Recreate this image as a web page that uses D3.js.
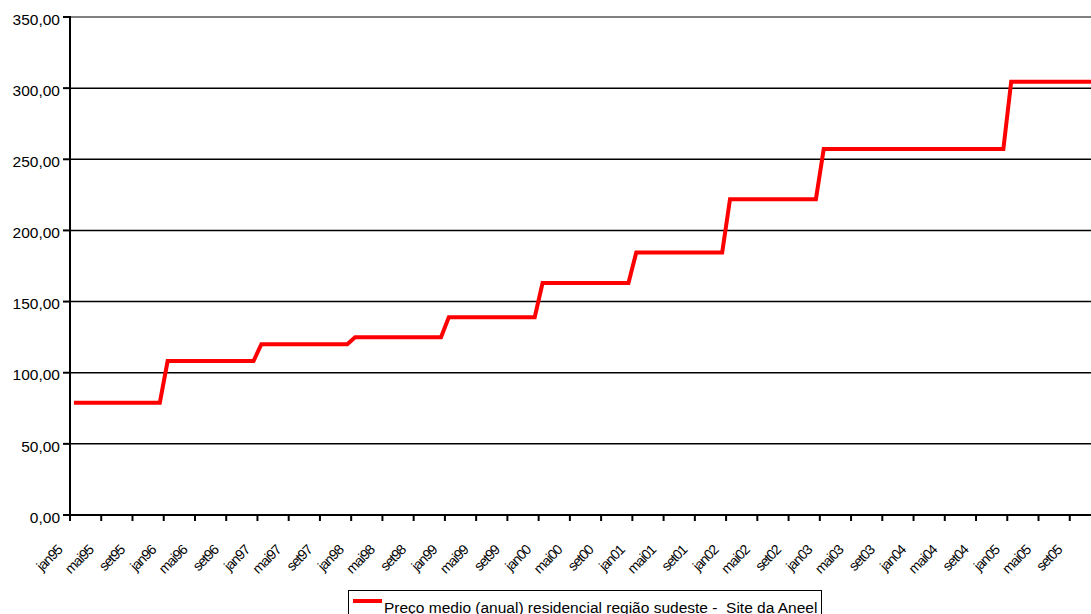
<!DOCTYPE html>
<html lang="pt">
<head>
<meta charset="UTF-8">
<title>Preço medio residencial</title>
<script src="https://d3js.org/d3.v7.min.js"></script>
<style>
  body { margin: 0; background: #fff; }
  text { font-family: "Liberation Sans", Arial, sans-serif; fill: #000; }
</style>
</head>
<body>
<script>
    // meses (abreviação) e anos da série
    var meses = ["jan", "fev", "mar", "abr", "mai", "jun", "jul", "ago", "set", "out", "nov", "dez"];
    var anos = ["95", "96", "97", "98", "99", "00", "01", "02", "03", "04", "05"];

    // preço médio mensal (valor anual repetido em cada mês), jan95 .. dez05
    var precoMensal = [
        78.9, 78.9, 78.9, 78.9, 78.9, 78.9, 78.9, 78.9, 78.9, 78.9, 78.9, 78.9,
        108.2, 108.2, 108.2, 108.2, 108.2, 108.2, 108.2, 108.2, 108.2, 108.2, 108.2, 108.2,
        120.0, 120.0, 120.0, 120.0, 120.0, 120.0, 120.0, 120.0, 120.0, 120.0, 120.0, 120.0,
        124.9, 124.9, 124.9, 124.9, 124.9, 124.9, 124.9, 124.9, 124.9, 124.9, 124.9, 124.9,
        139.0, 139.0, 139.0, 139.0, 139.0, 139.0, 139.0, 139.0, 139.0, 139.0, 139.0, 139.0,
        163.0, 163.0, 163.0, 163.0, 163.0, 163.0, 163.0, 163.0, 163.0, 163.0, 163.0, 163.0,
        184.5, 184.5, 184.5, 184.5, 184.5, 184.5, 184.5, 184.5, 184.5, 184.5, 184.5, 184.5,
        222.0, 222.0, 222.0, 222.0, 222.0, 222.0, 222.0, 222.0, 222.0, 222.0, 222.0, 222.0,
        257.3, 257.3, 257.3, 257.3, 257.3, 257.3, 257.3, 257.3, 257.3, 257.3, 257.3, 257.3,
        257.3, 257.3, 257.3, 257.3, 257.3, 257.3, 257.3, 257.3, 257.3, 257.3, 257.3, 257.3,
        304.5, 304.5, 304.5, 304.5, 304.5, 304.5, 304.5, 304.5, 304.5, 304.5, 304.5, 304.5
    ];

    var yTicks = [0, 50, 100, 150, 200, 250, 300, 350];
    var legenda = "Preço medio (anual) residencial região sudeste -  Site da Aneel";

    var categorias = [];
    anos.forEach(function(a) {
        meses.forEach(function(m) { categorias.push(m + a); });
    });

    var dataset = categorias.map(function(c, i) {
        return { cat: c, valor: precoMensal[i] };
    });

    var w = 1091;
    var h = 614;

    var svg = d3.select("body")
                .append("svg")
                .attr("width", w)
                .attr("height", h);

    var xScale = d3.scaleBand()
                   .domain(categorias)
                   .range([70, 1101]);

    var yScale = d3.scaleLinear()
                   .domain([0, 350])
                   .range([515, 17]);

    var fmt = function(v) { return d3.format(".2f")(v).replace(".", ","); };

    // linhas de grade
    svg.selectAll("line.grid")
       .data(yTicks.filter(function(d) { return d > 0; }))
       .enter()
       .append("line")
       .attr("class", "grid")
       .attr("x1", 70)
       .attr("x2", w)
       .attr("y1", function(d) { return yScale(d); })
       .attr("y2", function(d) { return yScale(d); })
       .attr("stroke", function(d) { return d === 350 ? "#808080" : "#000"; })
       .attr("stroke-width", function(d) { return d === 350 ? 2 : 1.5; });

    // eixo y
    svg.append("line")
       .attr("x1", 70).attr("x2", 70)
       .attr("y1", yScale(350) - 1).attr("y2", 521)
       .attr("stroke", "#000").attr("stroke-width", 2);

    svg.selectAll("line.ytick")
       .data(yTicks)
       .enter()
       .append("line")
       .attr("class", "ytick")
       .attr("x1", 63).attr("x2", 70)
       .attr("y1", function(d) { return yScale(d); })
       .attr("y2", function(d) { return yScale(d); })
       .attr("stroke", "#000").attr("stroke-width", 2);

    svg.selectAll("text.ylab")
       .data(yTicks)
       .enter()
       .append("text")
       .attr("class", "ylab")
       .attr("x", 60)
       .attr("y", function(d) { return yScale(d) + 7.7; })
       .attr("text-anchor", "end")
       .style("font-size", "15.5px")
       .text(fmt);

    // eixo x
    svg.append("line")
       .attr("x1", 63).attr("x2", w)
       .attr("y1", 515).attr("y2", 515)
       .attr("stroke", "#000").attr("stroke-width", 2);

    var xTicks = categorias.filter(function(c, i) { return i % 4 === 0; });

    svg.selectAll("line.xtick")
       .data(xTicks)
       .enter()
       .append("line")
       .attr("class", "xtick")
       .attr("x1", function(d) { return xScale(d); })
       .attr("x2", function(d) { return xScale(d); })
       .attr("y1", 515).attr("y2", 521)
       .attr("stroke", "#000").attr("stroke-width", 2);

    svg.selectAll("text.xlab")
       .data(xTicks)
       .enter()
       .append("text")
       .attr("class", "xlab")
       .attr("text-anchor", "end")
       .attr("transform", function(d) {
           return "translate(" + (xScale(d) - 7) + ",551) rotate(-45)";
       })
       .style("font-size", "14px")
       .style("letter-spacing", "-1px")
       .text(function(d) { return d; });

    // linha da série
    var line = d3.line()
                 .x(function(d) { return xScale(d.cat) + xScale.bandwidth() / 2; })
                 .y(function(d) { return yScale(d.valor); });

    svg.append("path")
       .datum(dataset)
       .attr("d", line)
       .attr("fill", "none")
       .attr("stroke", "#ff0000")
       .attr("stroke-width", 4)
       .attr("stroke-linejoin", "miter");

    // legenda
    var leg = svg.append("g");
    leg.append("rect")
       .attr("x", 348.5).attr("y", 590.5)
       .attr("width", 473).attr("height", 40)
       .attr("fill", "#fff")
       .attr("stroke", "#000").attr("stroke-width", 1);
    leg.append("line")
       .attr("x1", 353).attr("x2", 382)
       .attr("y1", 601).attr("y2", 601)
       .attr("stroke", "#ff0000").attr("stroke-width", 4);
    leg.append("text")
       .attr("x", 384).attr("y", 612.5)
       .style("font-size", "15.5px")
       .style("white-space", "pre")
       .text(legenda);
</script>
</body>
</html>
